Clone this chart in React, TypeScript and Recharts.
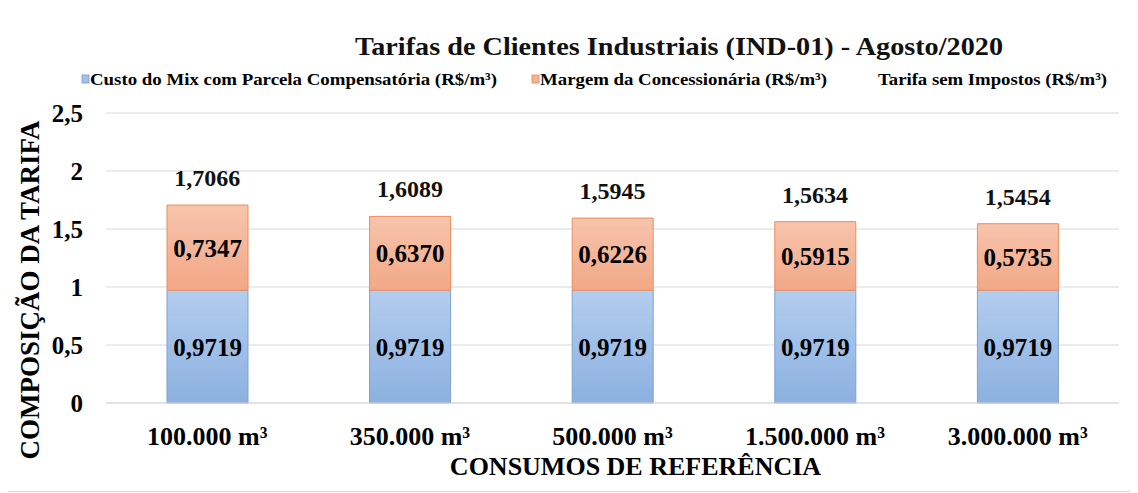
import React from "react";
import {
  ComposedChart,
  Bar,
  Line,
  XAxis,
  YAxis,
  CartesianGrid,
  Legend,
  LabelList,
} from "recharts";

const categories = ["100.000 m³", "350.000 m³", "500.000 m³", "1.500.000 m³", "3.000.000 m³"];
const custoMix = [0.9719, 0.9719, 0.9719, 0.9719, 0.9719];
const margem = [0.7347, 0.637, 0.6226, 0.5915, 0.5735];
const tarifa = [1.7066, 1.6089, 1.5945, 1.5634, 1.5454];
const yTicks = [0, 0.5, 1, 1.5, 2, 2.5];

const data = categories.map((cat, i) => ({
  cat,
  custo: custoMix[i],
  margem: margem[i],
  tarifa: tarifa[i],
}));

const FONT = "Liberation Serif, Tinos, DejaVu Serif, serif";

const fmt4 = (v: any) => Number(v).toFixed(4).replace(".", ",");
const fmtTick = (v: number) => String(v).replace(".", ",");

// legend drawn as svg so the condensed text widths can be matched
function LegendRow() {
  const txt = {
    fontFamily: FONT,
    fontSize: 17,
    fontWeight: "bold" as const,
    fill: "#000",
  };
  return (
    <svg width={1124} height={24} style={{ display: "block" }}>
      <rect x={74} y={9} width={7} height={8} fill="#a3c1e8" stroke="#6f98cc" strokeWidth={0.8} />
      <text x={82} y={13} dominantBaseline="central" textLength={407} lengthAdjust="spacingAndGlyphs" style={txt}>
        Custo do Mix com Parcela Compensatória (R$/m³)
      </text>
      <rect x={524} y={9} width={7} height={8} fill="#f4b092" stroke="#e8895a" strokeWidth={0.8} />
      <text x={532} y={13} dominantBaseline="central" textLength={287} lengthAdjust="spacingAndGlyphs" style={txt}>
        Margem da Concessionária (R$/m³)
      </text>
      <text x={870} y={13} dominantBaseline="central" textLength={229} lengthAdjust="spacingAndGlyphs" style={txt}>
        Tarifa sem Impostos (R$/m³)
      </text>
    </svg>
  );
}

const YLabel = (props: any) => {
  const vb = props.viewBox || { x: 0, y: 107, width: 98, height: 290 };
  const cx = vb.x + 22;
  const cy = vb.y + vb.height / 2 + 32;
  return (
    <text
      x={cx}
      y={cy}
      transform={`rotate(-90 ${cx} ${cy})`}
      textAnchor="middle"
      dominantBaseline="central"
      style={{ fontFamily: FONT, fontSize: 27, fontWeight: "bold", fill: "#000" }}
    >
      COMPOSIÇÃO DA TARIFA
    </text>
  );
};

const XLabel = (props: any) => {
  const vb = props.viewBox || { x: 98, y: 397, width: 1013, height: 80 };
  return (
    <text
      x={vb.x + vb.width / 2 + 23}
      y={vb.y + 63}
      textAnchor="middle"
      dominantBaseline="central"
      style={{ fontFamily: FONT, fontSize: 26, fontWeight: "bold", fill: "#000" }}
    >
      CONSUMOS DE REFERÊNCIA
    </text>
  );
};

const tickStyle = { fontSize: 26, fontWeight: "bold", fill: "#000", fontFamily: FONT };
const labelStyle = { fontSize: 25, fontWeight: "bold", fill: "#000", fontFamily: FONT };

export default function App() {
  return (
    <div style={{ position: "relative", left: -1, top: -3, fontFamily: FONT }}>
      <div
        style={{
          position: "relative",
          width: 1124,
          height: 485,
          border: "1px solid #d9d9d9",
          background: "#fff",
        }}
      >
        <svg
          width={1124}
          height={60}
          style={{ position: "absolute", left: 0, top: 0, pointerEvents: "none" }}
        >
          <text
            x={347}
            y={40}
            dominantBaseline="central"
            textLength={648}
            lengthAdjust="spacingAndGlyphs"
            style={{ fontFamily: FONT, fontSize: 26, fontWeight: "bold", fill: "#111" }}
          >
            Tarifas de Clientes Industriais (IND-01) - Agosto/2020
          </text>
        </svg>
        <ComposedChart
          width={1124}
          height={485}
          data={data}
          margin={{ top: 83, right: 13, bottom: 8, left: 0 }}
          barCategoryGap={0}
          style={{ fontFamily: FONT }}
        >
          <defs>
            <linearGradient id="gBlue" x1="0" y1="0" x2="0" y2="1">
              <stop offset="0%" stopColor="#b3cdee" />
              <stop offset="100%" stopColor="#8cb1e0" />
            </linearGradient>
            <linearGradient id="gOrange" x1="0" y1="0" x2="0" y2="1">
              <stop offset="0%" stopColor="#f7c4ad" />
              <stop offset="100%" stopColor="#f2a886" />
            </linearGradient>
          </defs>
          <CartesianGrid vertical={false} stroke="#d9d9d9" />
          <XAxis
            dataKey="cat"
            height={80}
            interval={0}
            tickLine={false}
            tickSize={0}
            tickMargin={24}
            axisLine={{ stroke: "#d9d9d9" }}
            tick={tickStyle}
            label={XLabel}
          />
          <YAxis
            width={98}
            domain={[0, 2.5]}
            ticks={yTicks}
            tickFormatter={fmtTick}
            axisLine={false}
            tickLine={false}
            tickSize={0}
            tickMargin={23}
            tick={{ ...tickStyle, fontSize: 25 }}
            label={YLabel}
          />
          <Legend
            verticalAlign="top"
            content={() => <LegendRow />}
            wrapperStyle={{ top: 60, left: 0, width: 1124, height: 24 }}
          />
          <Bar
            dataKey="custo"
            stackId="a"
            barSize={81}
            fill="url(#gBlue)"
            stroke="#7da3d0"
            strokeWidth={1}
            isAnimationActive={false}
          >
            <LabelList dataKey="custo" position="center" formatter={fmt4} style={labelStyle} />
          </Bar>
          <Bar
            dataKey="margem"
            stackId="a"
            barSize={81}
            fill="url(#gOrange)"
            stroke="#ec8d5c"
            strokeWidth={1}
            isAnimationActive={false}
          >
            <LabelList dataKey="margem" position="center" formatter={fmt4} style={labelStyle} />
          </Bar>
          <Line
            dataKey="tarifa"
            stroke="none"
            dot={false}
            activeDot={false}
            isAnimationActive={false}
          >
            <LabelList
              dataKey="tarifa"
              position="top"
              offset={19}
              formatter={fmt4}
              style={{ ...labelStyle, fontSize: 24, fill: "#111" }}
            />
          </Line>
        </ComposedChart>
      </div>
    </div>
  );
}
